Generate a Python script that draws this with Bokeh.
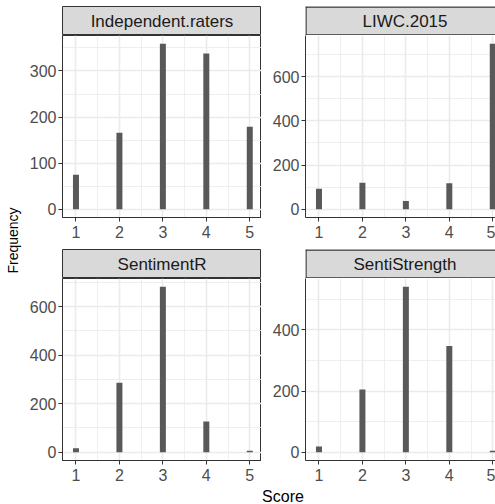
import math
from bokeh.plotting import figure
from bokeh.layouts import row, column
from bokeh.models import Range1d, FixedTicker, Label
from bokeh.embed import file_html
from bokeh.resources import INLINE

# ---- data ----
SCORES = [1, 2, 3, 4, 5]
PANELS = ["Independent.raters", "LIWC.2015", "SentimentR", "SentiStrength"]
INDEPENDENT = [75, 166, 359, 338, 179]
LIWC = [93, 120, 37, 118, 749]
SENTIMENTR = [16, 286, 682, 127, 6]
SENTISTRENGTH = [19, 205, 541, 347, 5]
COUNTS = [INDEPENDENT, LIWC, SENTIMENTR, SENTISTRENGTH]
Y_TICKS = [[0, 100, 200, 300], [0, 200, 400, 600], [0, 200, 400, 600], [0, 200, 400]]
X_TICKS = SCORES
X_LABEL = "Score"
Y_LABEL = "Frequency"

# ---- style ----
FONT = "Liberation Sans"
BAR = "#595959"
GRID = "#EBEBEB"
BORDER = "#333333"
STRIP = "#D9D9D9"
TICKTXT = "#4D4D4D"
BIN_W = 4 / 29
X_START = 0.69
PX_PER_UNIT = 199 / (5.27 - X_START)
FULL_W = 199
STRIP_H = 29


def strip_fig(name, left, frame_w, top, cropped):
    s = figure(frame_width=frame_w, frame_height=STRIP_H, min_border_left=left,
               min_border_right=0, min_border_top=top, min_border_bottom=0,
               x_range=Range1d(0, frame_w), y_range=Range1d(0, STRIP_H),
               x_axis_type=None, y_axis_type=None, toolbar_location=None,
               output_backend="svg", background_fill_color=STRIP,
               outline_line_color=None if cropped else BORDER, outline_line_width=1)
    s.grid.visible = False
    if cropped:
        # border on left, top and bottom only: the right side is cut off
        s.segment(x0=[0.5, 0, 0], y0=[0, STRIP_H - 0.5, 0.5],
                  x1=[0.5, frame_w, frame_w], y1=[STRIP_H, STRIP_H - 0.5, 0.5],
                  line_color=BORDER, line_width=1.3)
    s.add_layout(Label(x=FULL_W / 2, y=STRIP_H / 2, text=name, text_align="center",
                       text_baseline="middle", text_font=FONT,
                       text_font_size="17px", text_color="#1A1A1A"))
    return s


def panel_fig(counts, yticks, left, frame_w, bottom, cropped):
    ymax = max(counts)
    y0, y1 = -0.05 * ymax, 1.05 * ymax
    step = yticks[1] - yticks[0]
    yminor = [t + step / 2 for t in yticks if t + step / 2 <= y1]
    xminor = [x + 0.5 for x in X_TICKS[:-1]]
    x_end = X_START + frame_w / PX_PER_UNIT
    p = figure(frame_width=frame_w, frame_height=182, min_border_left=left,
               min_border_right=0, min_border_top=0, min_border_bottom=bottom,
               x_range=Range1d(X_START, x_end), y_range=Range1d(y0, y1),
               toolbar_location=None, output_backend="svg",
               outline_line_color=None if cropped else BORDER, outline_line_width=1)
    p.vbar(x=SCORES, top=counts, width=BIN_W, fill_color=BAR, line_color=None)
    p.xaxis.ticker = FixedTicker(ticks=X_TICKS, minor_ticks=xminor)
    p.yaxis.ticker = FixedTicker(ticks=yticks, minor_ticks=yminor)
    for ax in (p.xaxis, p.yaxis):
        ax.major_label_text_font = FONT
        ax.major_label_text_font_size = "16px"
        ax.major_label_text_color = TICKTXT
        ax.major_tick_out = 4
        ax.major_tick_in = 0
        ax.major_tick_line_color = BORDER
        ax.minor_tick_line_color = None
        ax.axis_line_color = BORDER
    p.xaxis.major_label_standoff = 4
    p.yaxis.major_label_standoff = 2
    for g in (p.xgrid, p.ygrid):
        g.grid_line_color = GRID
        g.grid_line_width = 1.6
        g.minor_grid_line_color = GRID
        g.minor_grid_line_width = 0.8
    return p


LEFT_L, LEFT_R = 38, 44
W_L, W_R = 199, 190

s1 = strip_fig(PANELS[0], LEFT_L, W_L, 6, False)
p1 = panel_fig(COUNTS[0], Y_TICKS[0], LEFT_L, W_L, 32, False)
s2 = strip_fig(PANELS[1], LEFT_R, W_R, 6, True)
p2 = panel_fig(COUNTS[1], Y_TICKS[1], LEFT_R, W_R, 32, True)
s3 = strip_fig(PANELS[2], LEFT_L, W_L, 0, False)
p3 = panel_fig(COUNTS[2], Y_TICKS[2], LEFT_L, W_L, 28, False)
s4 = strip_fig(PANELS[3], LEFT_R, W_R, 0, True)
p4 = panel_fig(COUNTS[3], Y_TICKS[3], LEFT_R, W_R, 28, True)

FREQ_W = 24
freq = figure(width=FREQ_W, height=504, x_range=Range1d(0, FREQ_W),
              y_range=Range1d(504, 0), x_axis_type=None, y_axis_type=None,
              toolbar_location=None, output_backend="svg",
              min_border=0, outline_line_color=None)
freq.grid.visible = False
freq.add_layout(Label(x=12.5, y=240, text=Y_LABEL, angle=math.pi / 2,
                      text_align="center", text_baseline="middle",
                      text_font=FONT, text_font_size="14px", text_color="black"))

SCORE_W = 495 - FREQ_W
score = figure(width=SCORE_W, height=16, x_range=Range1d(0, SCORE_W),
               y_range=Range1d(16, 0), x_axis_type=None, y_axis_type=None,
               toolbar_location=None, output_backend="svg",
               min_border=0, outline_line_color=None)
score.grid.visible = False
score.add_layout(Label(x=282.5 - FREQ_W, y=7.5, text=X_LABEL,
                       text_align="center", text_baseline="middle",
                       text_font=FONT, text_font_size="16px", text_color="black"))

layout = row(freq, column(row(column(s1, p1), column(s2, p2)),
                          row(column(s3, p3), column(s4, p4)),
                          score))

open("out.html", "w").write(file_html(layout, INLINE))
